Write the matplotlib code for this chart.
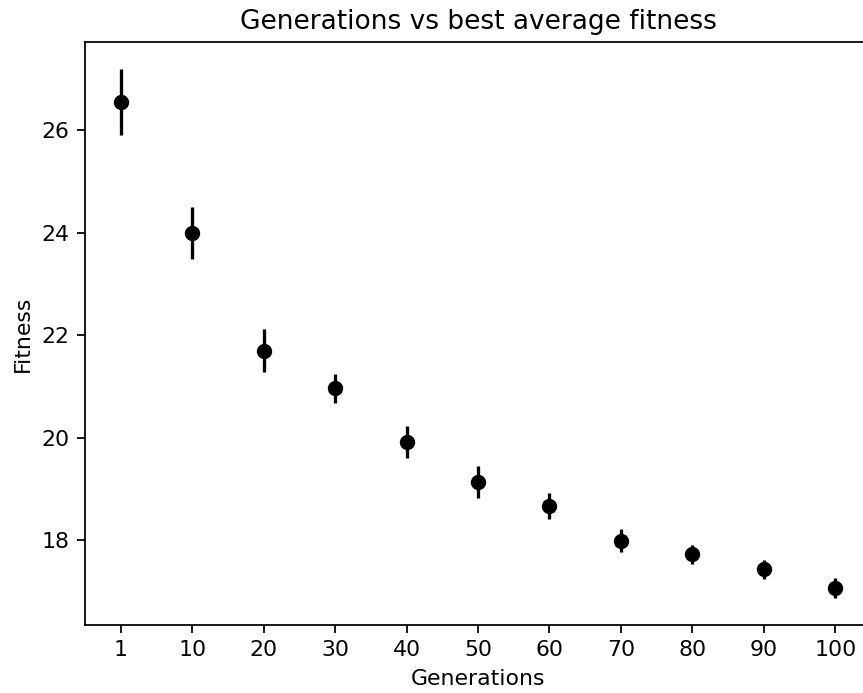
import matplotlib
matplotlib.use("Agg")
import matplotlib.pyplot as plt

generations = ["1", "10", "20", "30", "40", "50", "60", "70", "80", "90", "100"]
mean_fitness = [26.56, 24.00, 21.70, 20.96, 19.92, 19.14, 18.67, 17.99, 17.72, 17.43, 17.06]
fitness_err = [0.645, 0.51, 0.42, 0.28, 0.31, 0.31, 0.25, 0.23, 0.18, 0.19, 0.20]

dpi = 158
fig = plt.figure(figsize=(863 / dpi, 693 / dpi), dpi=dpi)
# axes runs a little past the right edge, as in the reference
ax = fig.add_axes([85 / 863, (693 - 625) / 693, 786 / 863, (625 - 42) / 693])

ax.errorbar(generations, mean_fitness, yerr=fitness_err, fmt="o", color="black")
ax.set(title="Generations vs best average fitness", xlabel="Generations", ylabel="Fitness")

fig.savefig("out.png", dpi=dpi)
